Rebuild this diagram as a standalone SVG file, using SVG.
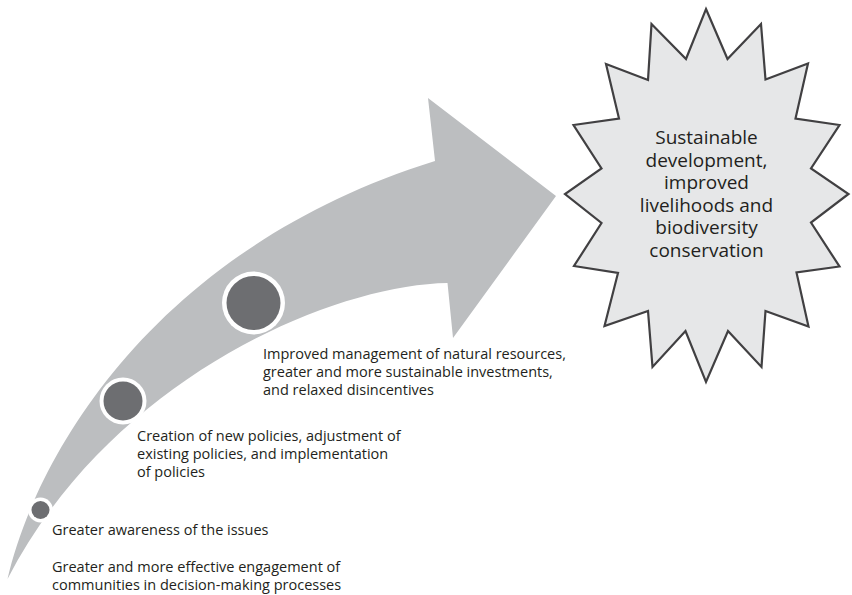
<svg xmlns="http://www.w3.org/2000/svg" width="852" height="595" viewBox="0 0 852 595">
  <style>
    .label { font-family: "Open Sans", "Noto Sans", "Liberation Sans", sans-serif; font-size: 14.5px; fill: #231f20; }
    .goal { font-family: "Open Sans", "Noto Sans", "Liberation Sans", sans-serif; font-size: 19px; fill: #231f20; text-anchor: middle; }
    .ring { fill: #ffffff; }
    .dot { fill: #6d6e71; }
    .star { fill: #e6e7e8; stroke: #414042; stroke-width: 2.2; stroke-linejoin: miter; }
  </style>

  <rect width="852" height="595" fill="#ffffff"/>

  <!-- curved progress arrow -->
  <g id="connectors">
    <path id="progress-arrow" fill="#bcbec0"
          d="M 7.5 579 C 35 460, 150 250, 435 161 L 428 98 L 556 196 L 453 338 L 447.5 283 C 330 285, 110 380, 7.5 579 Z"/>
  </g>

  <!-- stage 1 -->
  <g id="stage-awareness">
    <circle class="ring" cx="40.5" cy="510" r="12.5"/>
    <circle class="dot" cx="40.5" cy="510" r="9"/>
    <text class="label" x="52" y="535">Greater awareness of the issues</text>
    <text class="label" x="52" y="572">Greater and more effective engagement of</text>
    <text class="label" x="52" y="590">communities in decision-making processes</text>
  </g>

  <!-- stage 2 -->
  <g id="stage-policies">
    <circle class="ring" cx="123" cy="401" r="23.5"/>
    <circle class="dot" cx="123" cy="401" r="19.5"/>
    <text class="label" x="137" y="441">Creation of new policies, adjustment of</text>
    <text class="label" x="137" y="459">existing policies, and implementation</text>
    <text class="label" x="137" y="477">of policies</text>
  </g>

  <!-- stage 3 -->
  <g id="stage-management">
    <circle class="ring" cx="253.5" cy="303" r="31.5"/>
    <circle class="dot" cx="253.5" cy="303" r="27"/>
    <text class="label" x="263" y="359">Improved management of natural resources,</text>
    <text class="label" x="263" y="377">greater and more sustainable investments,</text>
    <text class="label" x="263" y="395">and relaxed disincentives</text>
  </g>

  <!-- outcome starburst -->
  <g id="outcome">
    <polygon class="star" points="706,9 727.5,59 761,24 765.5,79.5 808,63.5 795.5,118.5 839.5,125 811,168.5 848.5,194 811,222.5 839.5,266.5 796.5,272.5 808.5,326.5 765.5,311 761.5,367 728,331 706,382 685.5,331 652.5,367 648,311 604.5,326 618,273 574,266 601.5,223 565,194 601.5,168.5 573.5,125 619,118.5 606,64 648,80 651.5,24 686,59"/>
    <text class="goal" x="706.5" y="144">Sustainable</text>
    <text class="goal" x="706.5" y="166.6">development,</text>
    <text class="goal" x="706.5" y="189.1">improved</text>
    <text class="goal" x="706.5" y="211.7">livelihoods and</text>
    <text class="goal" x="706.5" y="234.2">biodiversity</text>
    <text class="goal" x="706.5" y="256.7">conservation</text>
  </g>
</svg>
